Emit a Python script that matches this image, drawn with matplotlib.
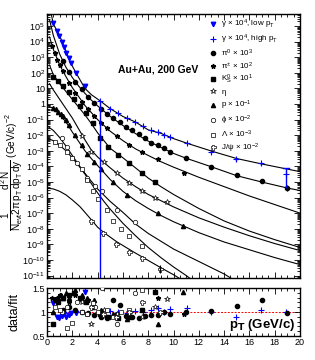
import numpy as np
import matplotlib
matplotlib.use('Agg')
import matplotlib.pyplot as plt
from matplotlib.lines import Line2D
from matplotlib.ticker import FixedLocator, MultipleLocator, NullFormatter

plt.rcParams['font.family'] = ['Liberation Sans', 'DejaVu Sans']
plt.rcParams['mathtext.fontset'] = 'custom'
plt.rcParams['mathtext.rm'] = 'Liberation Sans'
plt.rcParams['mathtext.it'] = 'Liberation Sans'

# ---------------- data (log10 of scaled yields) ----------------
# gamma x 10^4, low pT
gl_pt = [0.5, 0.77, 0.97, 1.19, 1.37, 1.53, 1.71, 1.87, 2.29, 3.03]
gl_y = [5.2, 4.68, 4.36, 3.99, 3.65, 3.29, 2.93, 2.61, 2.0, 1.15]
gl_r = [1.18, 0.9, 0.88, 0.92, 0.95, 0.9, 0.93, 0.97, 0.98, 1.42]
# gamma x 10^4, high pT
gh_pt = [4.2, 4.98, 5.64, 6.3, 6.96, 7.6, 8.2, 8.8, 9.25, 9.72, 11.04, 12.96, 14.94, 16.94, 18.9]
gh_y = [0.21, -0.3, -0.6, -0.9, -1.15, -1.4, -1.7, -1.81, -1.99, -2.14, -2.48, -3.05, -3.55, -3.8, -4.49]
gh_r = [1.0, 1.02, 1.0, 0.98, 1.03, 1.0, 1.05, 1.08, 1.0, 1.06, 1.08, 1.0, 0.9, 1.05, 1.0]
gh_lo = [-11.5, -0.35, -0.65, -0.95, -1.2, -1.45, -1.75, -1.86, -2.04, -2.2, -2.55, -3.12, -3.65, -3.9, -5.4]
gh_hi = [0.21, -0.25, -0.55, -0.85, -1.1, -1.35, -1.65, -1.76, -1.94, -2.08, -2.41, -2.98, -3.45, -3.7, -4.12]
g_fit_pt = [0.3, 0.5, 0.77, 1.0, 1.37, 1.87, 2.3, 3.0, 3.5, 4.2, 5.0, 6.0, 7.0, 8.0, 9.0, 10, 11, 13, 15, 17, 20]
g_fit_y = [5.9, 5.13, 4.73, 4.38, 3.65, 2.63, 1.98, 1.0, 0.6, 0.2, -0.3, -0.8, -1.16, -1.66, -1.88, -2.22, -2.5,
           -3.02, -3.5, -3.85, -4.34]

# pi0 x 10^3
pi0_pt = [1.25, 1.75, 2.25, 2.75, 3.25, 3.75, 4.25, 4.75, 5.25, 5.75, 6.25, 6.75, 7.25, 7.75,
          8.25, 8.75, 9.25, 9.75, 11, 13, 15, 17, 19]
pi0_y = [2.78, 2.03, 1.42, 0.93, 0.47, 0.08, -0.3, -0.62, -0.9, -1.17, -1.45, -1.7, -1.95, -2.2,
         -2.48, -2.63, -2.84, -3.1, -3.48, -4.02, -4.55, -4.92, -5.4]
pi0_r = [1.05, 1.1, 1.05, 1.0, 0.97, 0.93, 0.9, 0.88, 1.25, 1.15, 0.92, 0.9, 0.88, 0.92,
         0.94, 0.94, 1.0, 0.95, 0.99, 1.03, 1.12, 1.24, 0.97]
pi0_lo = [-5.6]
pi0_hi = [-5.2]
pi0_fit_pt = [0.2, 0.5, 1.0, 1.5, 2.0, 2.5, 3.0, 3.5, 4.0, 5.0, 6.0, 7.0, 8.0, 9.0, 10, 11, 13, 15, 17, 19, 20]
pi0_fit_y = [5.4, 4.4, 3.2, 2.35, 1.7, 1.15, 0.68, 0.25, -0.12, -0.8, -1.38, -1.9, -2.38, -2.78, -3.17, -3.48,
             -4.03, -4.6, -5.01, -5.39, -5.55]

# pi+- x 10^2
pic_pt = [0.4, 0.6, 0.8, 1.0, 1.25, 1.75, 2.25, 2.75, 3.25, 3.75, 4.25, 4.75, 5.5, 6.5, 7.5, 8.8, 10.8]
pic_y = [3.7, 3.25, 2.85, 2.5, 2.1, 1.35, 0.7, 0.15, -0.35, -0.8, -1.2, -1.55, -2.05, -2.6, -3.1, -3.55, -4.4]
pic_r = [1.3, 1.25, 1.3, 1.35, 1.3, 1.2, 1.35, 1.3, 1.25, 1.1, 0.95, 0.9, 0.95, 1.0, 1.05, 1.29, 0.95]
pic_fit_pt = [0.2, 0.5, 1, 1.5, 2, 3, 4, 5, 6, 7, 8, 9, 10, 12, 14, 16, 18, 20]
pic_fit_y = [4.3, 3.5, 2.5, 1.75, 1.05, -0.1, -1.0, -1.75, -2.35, -2.88, -3.3, -3.7, -4.05, -4.7, -5.3, -5.9,
             -6.45, -7.0]

# K0S x 10
k0_pt = [0.5, 0.9, 1.3, 1.7, 2.1, 2.6, 3.1, 3.6, 4.2, 4.85, 5.64, 6.5, 7.5, 8.5]
k0_y = [1.75, 1.5, 1.15, 0.75, 0.35, -0.1, -0.6, -1.2, -2.2, -2.74, -3.27, -3.8, -4.4, -4.98]
k0_r = [0.76, 1.2, 1.3, 1.35, 1.4, 1.3, 1.2, 1.1, 0.95, 0.9, 0.88, 0.9, 1.05, 1.42]
k0_fit_pt = [0.2, 0.5, 1, 1.5, 2, 2.5, 3, 3.5, 4, 5, 6, 7, 8, 9, 10, 12, 14, 16, 18, 20]
k0_fit_y = [2.5, 1.87, 1.3, 0.8, 0.3, -0.2, -0.7, -1.25, -1.85, -2.85, -3.45, -4.1, -4.75, -5.3, -5.8, -6.7,
            -7.5, -8.15, -8.7, -9.2]

# eta
eta_pt = [2.75, 3.5, 4.5, 5.5, 6.5, 7.5, 8.5, 9.5]
eta_y = [-2.05, -3.05, -3.7, -4.44, -5.08, -5.55, -6.05, -6.3]
eta_r = [1.2, 0.76, 1.05, 0.95, 1.0, 0.9, 1.1, 1.27]
eta_fit_pt = [0.2, 0.5, 1, 1.5, 2, 2.5, 3, 3.5, 4, 5, 6, 7, 8, 9, 10, 12, 14, 16, 18, 20]
eta_fit_y = [1.3, 0.9, 0.3, -0.3, -0.9, -1.6, -2.3, -2.95, -3.4, -4.1, -4.75, -5.3, -5.8, -6.2, -6.6, -7.3,
             -7.9, -8.45, -8.95, -9.4]

# p x 10^-1
p_pt = [0.5, 0.7, 0.9, 1.1, 1.3, 1.5, 1.75, 2.25, 2.75, 3.13, 3.75, 4.27, 5.24, 6.35, 8.8, 10.78]
p_y = [-0.25, -0.35, -0.5, -0.65, -0.8, -1.0, -1.35, -2.0, -2.65, -3.2, -3.75, -4.19, -5.0, -5.85, -7.0, -7.82]
p_r = [1.0, 1.25, 1.3, 1.35, 1.3, 1.4, 1.3, 1.45, 1.35, 1.3, 1.25, 1.05, 0.95, 0.85, 0.75, 1.42]
p_fit_pt = [0.2, 0.5, 1, 1.5, 2, 2.5, 3, 3.5, 4, 5, 6, 7, 8, 9, 10, 12, 14, 16, 18, 20]
p_fit_y = [-0.2, -0.25, -0.7, -1.15, -1.8, -2.4, -3.0, -3.5, -3.95, -4.85, -5.6, -6.2, -6.7, -7.15, -7.55,
           -8.25, -8.85, -9.35, -9.85, -10.3]

# phi x 10^-2
phi_pt = [1.16, 1.6, 2.35, 3.13, 3.79, 4.32, 5.5, 6.96]
phi_y = [-2.2, -2.75, -3.8, -4.76, -5.26, -5.6, -6.8, -7.55]
phi_r = [1.0, 1.1, 1.2, 0.95, 1.1, 1.49, 0.76, 1.39]
phi_fit_pt = [0, 0.5, 1, 1.5, 2, 2.5, 3, 3.5, 4, 5, 6, 7, 8, 9, 10, 12, 14, 14.6]
phi_fit_y = [-1.4, -1.7, -2.15, -2.7, -3.3, -3.9, -4.45, -4.95, -5.45, -6.25, -6.95, -7.7, -8.3, -8.8, -9.3,
             -10.1, -10.9, -11.2]

# Lambda x 10^-3
lam_pt = [0.63, 1.0, 1.56, 2.0, 2.74, 3.19, 3.66, 4.06, 4.72, 5.24, 5.85, 6.5, 7.49]
lam_y = [-2.42, -2.6, -3.06, -3.48, -4.2, -4.87, -5.6, -6.1, -6.8, -7.5, -8.0, -8.46, -9.1]
lam_r = [1.1, 1.05, 0.66, 0.78, 1.0, 0.95, 1.19, 1.0, 1.05, 0.9, 1.0, 1.05, 1.45]
lam_fit_pt = [0, 0.5, 1, 1.5, 2, 2.5, 3, 3.5, 4, 4.5, 5, 5.5, 6, 7, 8, 9, 10, 11, 11.5]
lam_fit_y = [-2.2, -2.35, -2.65, -3.0, -3.45, -3.95, -4.5, -5.1, -5.7, -6.25, -6.75, -7.2, -7.65, -8.45, -9.2,
             -9.85, -10.45, -11.0, -11.3]

# J/psi x 10^-2
jp_pt = [3.45, 4.45, 5.45, 6.45, 7.49, 8.9]
jp_y = [-7.5, -8.29, -9.0, -9.5, -9.89, -10.6]
jp_r = [1.1, 0.95, 0.9, 1.0, 1.2, 1.0]
jp_lo = [-10.85]
jp_hi = [-10.35]
jp_fit_pt = [0, 0.5, 1, 1.5, 2, 2.6, 3, 3.5, 4, 4.5, 5.5, 6.8, 8.14, 9, 10, 10.5]
jp_fit_y = [-5.4, -5.45, -5.6, -5.83, -6.15, -6.58, -6.95, -7.42, -7.9, -8.25, -8.83, -9.47, -10.1, -10.5,
            -10.95, -11.2]

ytick_exp = list(range(-11, 6))
BLUE = '#0000ff'

# ---------------- figure ----------------
fig = plt.figure(figsize=(3.15, 3.6), dpi=100)
ax = fig.add_axes([47 / 315, 1 - 278 / 360, 253 / 315, 264 / 360])
axr = fig.add_axes([47 / 315, 1 - 336 / 360, 253 / 315, 48 / 360])

def L(a):
    return 10.0 ** np.asarray(a, dtype=float)

fits = [(g_fit_pt, g_fit_y), (pi0_fit_pt, pi0_fit_y), (pic_fit_pt, pic_fit_y), (k0_fit_pt, k0_fit_y),
        (eta_fit_pt, eta_fit_y), (p_fit_pt, p_fit_y), (phi_fit_pt, phi_fit_y), (lam_fit_pt, lam_fit_y),
        (jp_fit_pt, jp_fit_y)]
for fx, fy in fits:
    ax.plot(fx, L(fy), color='black', lw=0.8, zorder=2)

styles = [
    (gl_pt, gl_y, gl_r, dict(marker='v', color=BLUE, ms=3.2, mfc=BLUE, mec=BLUE)),
    (gh_pt, gh_y, gh_r, dict(marker='+', color=BLUE, ms=4.2, mew=0.8)),
    (pi0_pt, pi0_y, pi0_r, dict(marker='o', color='black', ms=3.0)),
    (pic_pt, pic_y, pic_r, dict(marker='*', color='black', ms=3.4)),
    (k0_pt, k0_y, k0_r, dict(marker='s', color='black', ms=2.8)),
    (eta_pt, eta_y, eta_r, dict(marker='*', color='black', ms=4.0, mfc='white', mew=0.5)),
    (p_pt, p_y, p_r, dict(marker='^', color='black', ms=3.0)),
    (phi_pt, phi_y, phi_r, dict(marker='o', color='black', ms=3.2, mfc='white', mew=0.5)),
    (lam_pt, lam_y, lam_r, dict(marker='s', color='black', ms=3.0, mfc='white', mew=0.5)),
    (jp_pt, jp_y, jp_r, dict(marker='P', color='black', ms=3.6, mfc='white', mew=0.5)),
]
for x, y, r, st in styles:
    ax.plot(x, L(y), ls='none', zorder=3, **st)
    axr.plot(x, r, ls='none', zorder=3, **st)

# error bars
gy = L(gh_y)
ax.errorbar(gh_pt, gy, yerr=[gy - L(gh_lo), L(gh_hi) - gy], fmt='none', ecolor=BLUE, elinewidth=1.0,
            capsize=0, zorder=4)
ax.plot([gh_pt[-1] - 0.25, gh_pt[-1] + 0.25], [L(gh_hi[-1])] * 2, color=BLUE, lw=1.0, zorder=4)
py = L(pi0_y[-1:])
ax.errorbar(pi0_pt[-1:], py, yerr=[py - L(pi0_lo), L(pi0_hi) - py], fmt='none', ecolor='black',
            elinewidth=0.8, zorder=4)
jy = L(jp_y[-1:])
ax.errorbar(jp_pt[-1:], jy, yerr=[jy - L(jp_lo), L(jp_hi) - jy], fmt='none', ecolor='black',
            elinewidth=0.8, zorder=4)

# ---------------- axes styling ----------------
ax.set_xlim(0, 20)
ax.set_yscale('log')
ax.set_ylim(10 ** -11.16, 10 ** 5.77)
ax.yaxis.set_major_locator(FixedLocator([10.0 ** e for e in ytick_exp]))
labels = []
for e in ytick_exp:
    if e == 0:
        labels.append('1')
    elif e == 1:
        labels.append('10')
    else:
        labels.append(r'$10^{%d}$' % e)
ax.set_yticklabels(labels)
ax.yaxis.set_minor_locator(FixedLocator([m * 10.0 ** e for e in range(-12, 6) for m in range(2, 10)]))
ax.yaxis.set_minor_formatter(NullFormatter())
ax.xaxis.set_major_locator(MultipleLocator(2))
ax.xaxis.set_minor_locator(MultipleLocator(0.5))
ax.set_xticklabels([])

for a in (ax, axr):
    a.tick_params(which='both', direction='in', top=True, right=True, labelsize=6.5, pad=1.5, width=0.6)
    a.tick_params(which='major', length=4)
    a.tick_params(which='minor', length=2)
    for s in a.spines.values():
        s.set_linewidth(1.0)

axr.set_xlim(0, 20)
axr.set_ylim(0.5, 1.5)
axr.xaxis.set_major_locator(MultipleLocator(2))
axr.xaxis.set_minor_locator(MultipleLocator(0.5))
axr.yaxis.set_major_locator(FixedLocator([0.5, 1.0, 1.5]))
axr.yaxis.set_minor_locator(MultipleLocator(0.1))
axr.set_yticklabels(['0.5', '1', '1.5'])
axr.axhline(1.0, color='red', lw=0.7, ls=(0, (2, 1.5)), zorder=1)
axr.tick_params(axis='x', pad=1.5)

# ---------------- texts ----------------
ax.text(0.44, 0.788, 'Au+Au, 200 GeV', transform=ax.transAxes, ha='center', va='center',
        fontsize=7.5, fontweight='bold')
fig.text(12 / 315, 1 - 172 / 360,
         r'$\dfrac{1}{N_{evt}2\pi}\dfrac{d^2N}{p_T\,dp_T\,dy}$ (GeV/c)$^{-2}$',
         rotation=90, ha='center', va='center', fontsize=7.2)
fig.text(15 / 315, 1 - 312 / 360, 'data/fit', rotation=90, ha='center', va='center', fontsize=9)
axr.text(0.98, 0.22, r'p$_\mathbf{T}$ (GeV/c)', transform=axr.transAxes, ha='right', va='center',
         fontsize=9.5, fontweight='bold')

# ---------------- legend ----------------
leg_labels = [r'$\gamma$ $\times$ 10$^4$, low p$_T$', r'$\gamma$ $\times$ 10$^4$, high p$_T$',
              r'$\pi^0$ $\times$ 10$^3$', r'$\pi^{\pm}$ $\times$ 10$^2$', r'K$^0_S$ $\times$ 10$^1$',
              r'$\eta$', r'p $\times$ 10$^{-1}$', r'$\phi$ $\times$ 10$^{-2}$', r'$\Lambda$ $\times$ 10$^{-3}$',
              r'J/$\psi$ $\times$ 10$^{-2}$']
handles = []
for (_, _, _, st) in styles:
    handles.append(Line2D([], [], ls='none', **st))
ax.legend(handles, leg_labels, loc='upper left', bbox_to_anchor=(0.645, 0.985), frameon=False, fontsize=5.8,
          handlelength=0.8, handletextpad=0.5, labelspacing=0.18, borderaxespad=0.0, borderpad=0.0)

fig.savefig('out.png', dpi=100)
